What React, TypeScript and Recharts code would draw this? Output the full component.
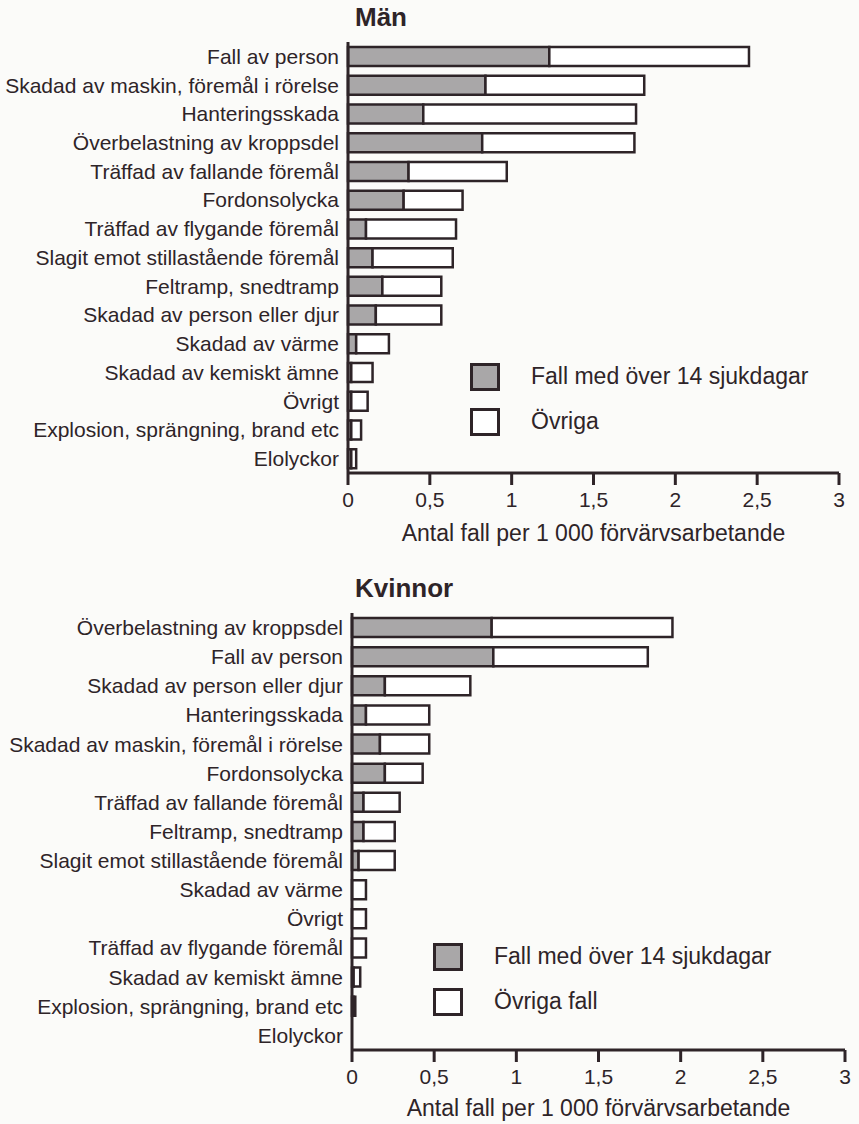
import React from "react";
import { Bar, BarChart, Legend, XAxis, YAxis } from "recharts";

const menCategories = [
  "Fall av person",
  "Skadad av maskin, föremål i rörelse",
  "Hanteringsskada",
  "Överbelastning av kroppsdel",
  "Träffad av fallande föremål",
  "Fordonsolycka",
  "Träffad av flygande föremål",
  "Slagit emot stillastående föremål",
  "Feltramp, snedtramp",
  "Skadad av person eller djur",
  "Skadad av värme",
  "Skadad av kemiskt ämne",
  "Övrigt",
  "Explosion, sprängning, brand etc",
  "Elolyckor"
];
const menSevere = [1.23, 0.84, 0.46, 0.82, 0.37, 0.34, 0.11, 0.15, 0.21, 0.17, 0.05, 0.02, 0.02, 0.02, 0.02];
const menOther = [1.22, 0.97, 1.3, 0.93, 0.6, 0.36, 0.55, 0.49, 0.36, 0.4, 0.2, 0.13, 0.1, 0.06, 0.03];

const womenCategories = [
  "Överbelastning av kroppsdel",
  "Fall av person",
  "Skadad av person eller djur",
  "Hanteringsskada",
  "Skadad av maskin, föremål i rörelse",
  "Fordonsolycka",
  "Träffad av fallande föremål",
  "Feltramp, snedtramp",
  "Slagit emot stillastående föremål",
  "Skadad av värme",
  "Övrigt",
  "Träffad av flygande föremål",
  "Skadad av kemiskt ämne",
  "Explosion, sprängning, brand etc",
  "Elolyckor"
];
const womenSevere = [0.85, 0.86, 0.2, 0.085, 0.17, 0.2, 0.07, 0.07, 0.04, 0, 0, 0, 0.01, 0.01, 0];
const womenOther = [1.1, 0.94, 0.52, 0.385, 0.3, 0.23, 0.22, 0.19, 0.22, 0.085, 0.085, 0.085, 0.04, 0.01, 0];

const xTicks = [0, 0.5, 1, 1.5, 2, 2.5, 3];
const axisTitle = "Antal fall per 1 000 förvärvsarbetande";
const severeLabel = "Fall med över 14 sjukdagar";

const INK = "#2e2428";
const GREY = "#a9a7a8";
const FONT = "'Liberation Sans', Arial, sans-serif";

function buildRows(names: string[], severe: number[], other: number[]) {
  return names.map((name, i) => ({ name, severe: severe[i], other: other[i] }));
}

function LegendBox({ items }: { items: { label: string; fill: string }[] }) {
  return (
    <div style={{ fontFamily: FONT, color: INK }}>
      {items.map((it) => (
        <div key={it.label} style={{ display: "flex", alignItems: "center", height: 45 }}>
          <div
            style={{
              width: 24,
              height: 22,
              border: `3px solid ${INK}`,
              background: it.fill,
              marginRight: 31
            }}
          />
          <span style={{ fontSize: 23 }}>{it.label}</span>
        </div>
      ))}
    </div>
  );
}

interface PanelProps {
  title: string;
  rows: { name: string; severe: number; other: number }[];
  otherLabel: string;
  top: number;
  height: number;
  marginTop: number;
  marginBottom: number;
  axisLeft: number;
  marginRight: number;
  legendLeft: number;
  labelOffset: number;
}

function Panel(p: PanelProps) {
  return (
    <div style={{ position: "absolute", left: 0, top: p.top, width: 859, height: p.height }}>
      <div
        style={{
          position: "absolute",
          left: 355,
          top: p.marginTop - 40,
          fontFamily: FONT,
          fontWeight: 700,
          fontSize: 26,
          color: INK
        }}
      >
        {p.title}
      </div>
      <BarChart
        width={859}
        height={p.height}
        data={p.rows}
        layout="vertical"
        barSize={19}
        margin={{ top: p.marginTop, right: p.marginRight, bottom: p.marginBottom, left: 0 }}
      >
        <XAxis
          type="number"
          domain={[0, 3]}
          ticks={xTicks}
          height={70}
          tickSize={12}
          tickMargin={7}
          tickFormatter={(v: number) => String(v).replace(".", ",")}
          tick={{ fill: INK, fontSize: 21, fontFamily: FONT }}
          axisLine={{ stroke: INK, strokeWidth: 3 }}
          tickLine={{ stroke: INK, strokeWidth: 3 }}
          label={{
            value: axisTitle,
            position: "insideBottom",
            offset: p.labelOffset,
            fill: INK,
            fontSize: 23,
            fontFamily: FONT
          }}
        />
        <YAxis
          type="category"
          dataKey="name"
          width={p.axisLeft}
          interval={0}
          tickLine={false}
          tickSize={6}
          tickMargin={3}
          tick={{ fill: INK, fontSize: 21, fontFamily: FONT }}
          axisLine={{ stroke: INK, strokeWidth: 3 }}
        />
        <Legend
          layout="vertical"
          verticalAlign="middle"
          align="center"
          wrapperStyle={{ left: p.legendLeft, top: 354, width: 400 }}
          content={() => (
            <LegendBox
              items={[
                { label: severeLabel, fill: GREY },
                { label: p.otherLabel, fill: "#ffffff" }
              ]}
            />
          )}
        />
        <Bar
          dataKey="severe"
          stackId="a"
          fill={GREY}
          stroke={INK}
          strokeWidth={2.5}
          isAnimationActive={false}
        />
        <Bar
          dataKey="other"
          stackId="a"
          fill="#ffffff"
          stroke={INK}
          strokeWidth={2.5}
          isAnimationActive={false}
        />
      </BarChart>
    </div>
  );
}

export default function App() {
  return (
    <div
      style={{
        position: "absolute",
        left: 0,
        top: 0,
        width: 859,
        height: 1124,
        background: "#fbfbf9",
        overflow: "hidden"
      }}
    >
      <Panel
        title="Män"
        rows={buildRows(menCategories, menSevere, menOther)}
        otherLabel="Övriga"
        top={0}
        height={560}
        marginTop={42}
        marginBottom={17}
        axisLeft={348}
        marginRight={20}
        legendLeft={470}
        labelOffset={2}
      />
      <Panel
        title="Kvinnor"
        rows={buildRows(womenCategories, womenSevere, womenOther)}
        otherLabel="Övriga fall"
        top={580}
        height={544}
        marginTop={33}
        marginBottom={4}
        axisLeft={352}
        marginRight={14}
        legendLeft={433}
        labelOffset={4}
      />
    </div>
  );
}
